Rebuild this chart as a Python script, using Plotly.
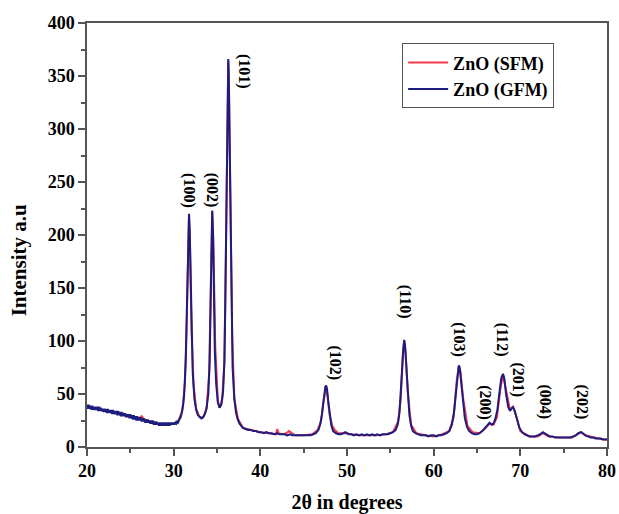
import plotly.graph_objects as go

# ---------------- data ----------------
two_theta_gfm = [
    20.0, 20.1, 20.2, 20.3, 20.4, 20.5, 20.6, 20.7, 20.8, 20.9,
    21.0, 21.1, 21.2, 21.3, 21.4, 21.5, 21.6, 21.7, 21.8, 21.9,
    22.0, 22.1, 22.2, 22.3, 22.4, 22.5, 22.6, 22.7, 22.8, 22.9,
    23.0, 23.1, 23.2, 23.3, 23.4, 23.5, 23.6, 23.7, 23.8, 23.9,
    24.0, 24.1, 24.2, 24.3, 24.4, 24.5, 24.6, 24.7, 24.8, 24.9,
    25.0, 25.1, 25.2, 25.3, 25.4, 25.5, 25.6, 25.7, 25.8, 25.9,
    26.0, 26.1, 26.2, 26.3, 26.4, 26.5, 26.6, 26.7, 26.8, 26.9,
    27.0, 27.1, 27.2, 27.3, 27.4, 27.5, 27.6, 27.7, 27.8, 27.9,
    28.0, 28.1, 28.2, 28.3, 28.4, 28.5, 28.6, 28.7, 28.8, 28.9,
    29.0, 29.1, 29.2, 29.3, 29.4, 29.5, 29.6, 29.7, 29.8, 29.9,
    30.0, 30.1, 30.2, 30.3, 30.4, 30.5, 30.6, 30.7, 30.8, 30.9,
    31.0, 31.1, 31.2, 31.3, 31.4, 31.5, 31.6, 31.7, 31.77, 31.85,
    31.95, 32.05, 32.2, 32.4, 32.6, 32.8, 33.0, 33.2, 33.4, 33.6, 33.8, 34.0,
    34.15, 34.25, 34.35, 34.45, 34.55, 34.65, 34.75, 34.9, 35.1, 35.3, 35.5, 35.7, 35.85, 35.95, 36.05,
    36.15, 36.25, 36.3, 36.35, 36.45, 36.55, 36.65, 36.8, 37.0, 37.2, 37.4, 37.6, 37.8, 38.0, 38.3,
    38.6, 38.9, 39.2, 39.5, 39.8, 40.1, 40.4, 40.7, 41.0, 41.3, 41.6, 41.9, 42.2, 42.5, 42.8,
    43.1, 43.4, 43.7, 44.0, 44.3, 44.6, 44.9, 45.2, 45.5, 45.8, 46.1, 46.4, 46.7, 46.9, 47.1,
    47.25, 47.4, 47.5, 47.6, 47.7, 47.85, 48.0, 48.2, 48.4, 48.7, 49.0, 49.3, 49.6, 49.8, 50.0,
    50.2, 50.5, 50.8, 51.1, 51.4, 51.7, 52.0, 52.3, 52.6, 52.9, 53.2, 53.5, 53.8, 54.1, 54.4,
    54.7, 55.0, 55.3, 55.6, 55.85, 56.05, 56.2, 56.35, 56.5, 56.6, 56.7, 56.85, 57.0, 57.2, 57.4,
    57.6, 57.9, 58.2, 58.5, 58.8, 59.1, 59.4, 59.7, 60.0, 60.3, 60.6, 60.9, 61.2, 61.5, 61.8,
    62.1, 62.35, 62.55, 62.75, 62.9, 63.0, 63.15, 63.35, 63.6, 63.85, 64.1, 64.4, 64.7, 65.0, 65.3,
    65.6, 65.9, 66.2, 66.45, 66.7, 66.9, 67.1, 67.35, 67.6, 67.8, 68.0, 68.15, 68.35, 68.6, 68.8,
    69.0, 69.15, 69.35, 69.6, 69.9, 70.2, 70.5, 70.8, 71.1, 71.4, 71.7, 72.0, 72.3, 72.6, 72.8,
    73.1, 73.4, 73.7, 74.0, 74.3, 74.6, 74.9, 75.2, 75.5, 75.8, 76.1, 76.4, 76.7, 77.0, 77.2,
    77.5, 77.8, 78.1, 78.4, 78.7, 79.0, 79.3, 79.6, 80.0,
]
intensity_gfm = [
    40, 36, 40, 36, 39, 35, 39, 35, 38, 35,
    38, 35, 38, 34, 38, 34, 37, 34, 36, 33,
    36, 33, 36, 32, 36, 32, 35, 32, 35, 31,
    35, 31, 34, 31, 34, 30, 34, 30, 33, 29,
    33, 29, 32, 29, 32, 28, 31, 28, 31, 27,
    31, 27, 30, 26, 30, 26, 29, 25, 29, 25,
    28, 25, 28, 24, 27, 24, 27, 23, 26, 23,
    26, 23, 25, 22, 25, 22, 25, 21, 24, 21,
    24, 21, 23, 20, 23, 20, 23, 20, 23, 20,
    23, 20, 23, 20, 23, 20, 23, 21, 23, 21,
    23, 21, 23, 22, 24, 23, 25, 26, 28, 31,
    35, 40, 48, 62, 82, 120, 170, 210, 220, 205,
    160, 110, 70, 45, 35, 30, 28, 27, 28, 31, 37, 50,
    80, 130, 190, 223, 200, 140, 90, 60, 42, 37, 40, 52, 80, 130, 200,
    290, 350, 366, 355, 290, 200, 130, 75, 45, 32, 26, 22, 20, 18, 17,
    16, 16, 15, 15, 14, 14, 13, 14, 13, 13, 12, 13, 12, 12, 12,
    11, 12, 11, 11, 11, 11, 11, 11, 11, 11, 12, 13, 16, 21, 30,
    41, 52, 57, 58, 54, 42, 30, 20, 15, 13, 12, 12, 13, 14, 13,
    12, 12, 11, 12, 11, 12, 11, 12, 11, 12, 11, 12, 11, 12, 12,
    12, 13, 14, 16, 21, 32, 48, 72, 93, 101, 96, 75, 50, 30, 20,
    15, 13, 12, 11, 11, 11, 10, 11, 11, 10, 11, 11, 12, 13, 15,
    21, 33, 51, 71, 77, 75, 62, 42, 27, 19, 15, 13, 12, 12, 13,
    15, 18, 21, 23, 21, 22, 26, 35, 52, 65, 69, 65, 50, 38, 34,
    37, 38, 34, 26, 18, 14, 12, 11, 10, 10, 10, 11, 12, 14, 13,
    11, 10, 10, 9, 9, 9, 9, 9, 9, 9, 10, 11, 13, 14, 13,
    11, 10, 9, 9, 8, 8, 8, 7, 7,
]

two_theta_sfm = [
    20.0, 20.5, 21.0, 21.5, 22.0, 22.5, 23.0, 23.5, 24.0, 24.5, 25.0, 25.5, 26.0, 26.3, 26.6,
    27.0, 27.5, 28.0, 28.5, 29.0, 29.5, 30.0, 30.5, 31.0, 31.3, 31.5, 31.65, 31.77, 31.9, 32.05,
    32.3, 32.6, 33.0, 33.4, 33.8, 34.1, 34.3, 34.45, 34.6, 34.8, 35.1, 35.3, 35.6, 35.85, 36.05,
    36.2, 36.3, 36.4, 36.55, 36.75, 37.0, 37.4, 38.0, 39.0, 40.0, 41.0, 41.8, 41.95, 42.1, 42.6,
    43.0, 43.3, 44.0, 45.0, 46.0, 46.6, 47.0, 47.3, 47.5, 47.6, 47.75, 48.0, 48.3, 48.6, 49.0,
    49.8, 50.5, 51.5, 52.5, 53.5, 54.5, 55.3, 55.9, 56.2, 56.45, 56.6, 56.75, 57.0, 57.4, 58.0,
    59.0, 60.0, 61.0, 61.8, 62.3, 62.65, 62.9, 63.1, 63.4, 63.9, 64.5, 65.3, 66.0, 66.45, 66.9,
    67.3, 67.7, 68.0, 68.3, 68.8, 69.15, 69.5, 70.0, 71.0, 72.0, 72.6, 73.2, 74.5, 76.0, 76.6,
    77.0, 77.5, 78.5, 79.5, 80.0,
]
intensity_sfm = [
    38, 37, 36, 35, 34, 34, 33, 32, 31, 30, 29, 28, 27, 29, 26,
    25, 23, 22, 21, 21, 21, 22, 24, 34, 60, 118, 190, 219, 185, 112,
    58, 36, 28, 28, 36, 70, 160, 222, 185, 95, 43, 37, 45, 80, 198,
    310, 364, 330, 215, 105, 46, 27, 18, 16, 14, 13, 12, 17, 13, 12,
    13, 15, 11, 11, 12, 16, 24, 44, 56, 57, 48, 30, 20, 16, 13,
    13, 12, 11, 11, 11, 12, 14, 24, 45, 88, 100, 90, 52, 21, 13,
    11, 10, 12, 15, 28, 62, 76, 71, 46, 20, 14, 13, 18, 22, 21,
    28, 55, 68, 56, 35, 38, 30, 15, 10, 10, 13, 10, 9, 9, 12,
    14, 11, 9, 7, 7,
]

peak_labels = ["(100)", "(002)", "(101)", "(102)", "(110)", "(103)", "(200)",
               "(112)", "(201)", "(004)", "(202)"]
label_x = [31.7, 34.4, 38.2, 48.6, 56.7, 62.9, 65.9, 67.9, 69.7, 72.85, 77.1]
label_y = [242, 242, 354, 79, 137, 101, 41.5, 101, 63, 43, 42]

series_names = ["ZnO (SFM)", "ZnO (GFM)"]
series_colors = ["#f03c4a", "#1d1d80"]

FONT = "Liberation Serif, Times New Roman, serif"

fig = go.Figure()
fig.add_trace(go.Scatter(x=two_theta_sfm, y=intensity_sfm, mode="lines",
                         name=series_names[0],
                         line=dict(color=series_colors[0], width=2)))
fig.add_trace(go.Scatter(x=two_theta_gfm, y=intensity_gfm, mode="lines",
                         name=series_names[1],
                         line=dict(color=series_colors[1], width=2)))

for t, x, y in zip(peak_labels, label_x, label_y):
    fig.add_annotation(x=x, y=y, text=t, showarrow=False, textangle=90,
                       font=dict(family=FONT, size=16, color="black", weight="bold"))

# y-axis title as an annotation so it can sit where the original has it
fig.add_annotation(xref="paper", yref="paper", x=-0.129, y=0.44,
                   xanchor="center", yanchor="middle",
                   text="Intensity a.u", showarrow=False, textangle=-90,
                   font=dict(family=FONT, size=21, color="black", weight="bold"))

axis_common = dict(
    showline=True, linecolor="#555555", linewidth=1.5, mirror=True,
    ticks="outside", ticklen=7, tickwidth=1.5, tickcolor="#555555",
    showgrid=False, zeroline=False, automargin=False,
    tickfont=dict(family=FONT, size=18, color="black", weight="bold"),
)

fig.update_xaxes(range=[20, 80], dtick=10, tick0=20,
                 minor=dict(dtick=5, ticklen=4, ticks="outside", tickcolor="#555555"),
                 title=dict(text="2θ in degrees", standoff=27,
                            font=dict(family=FONT, size=20, color="black", weight="bold")),
                 **axis_common)
fig.update_yaxes(range=[0, 400], dtick=50, tick0=0,
                 minor=dict(dtick=25, ticklen=4, ticks="outside", tickcolor="#555555"),
                 **axis_common)

fig.update_layout(
    width=619, height=514,
    margin=dict(l=87, r=12, t=23, b=67),
    plot_bgcolor="white", paper_bgcolor="white",
    showlegend=True,
    legend=dict(x=0.606, y=0.952, xanchor="left", yanchor="top",
                bgcolor="white", bordercolor="#555555", borderwidth=1,
                font=dict(family=FONT, size=18, color="black", weight="bold"),
                tracegroupgap=0, itemwidth=40),
)

# remove the page's default 8px body margin so the figure fills the window
fig.write_html("out.html",
               config={"displayModeBar": False},
               post_script="document.body.style.margin='0';document.body.style.overflow='hidden';")
